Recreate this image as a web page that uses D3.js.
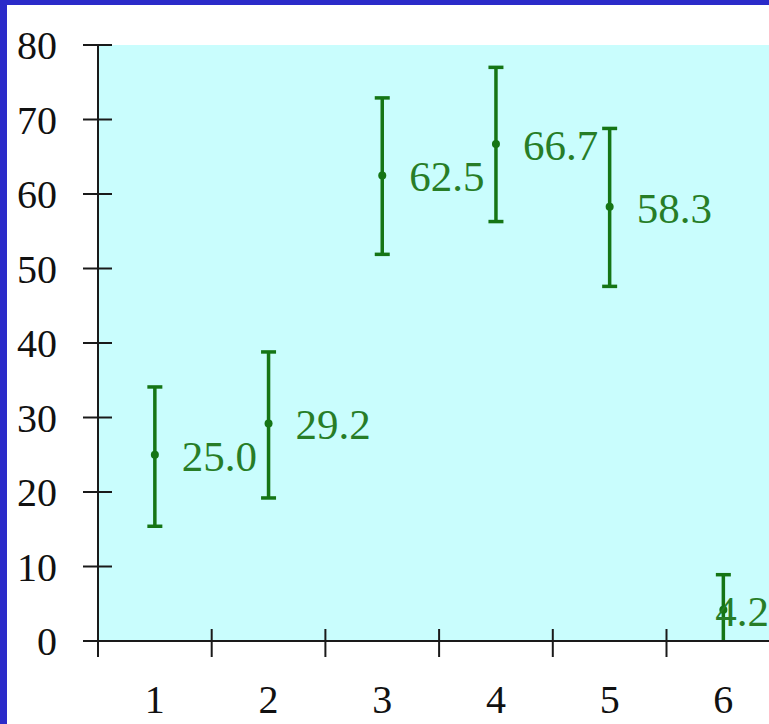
<!DOCTYPE html>
<html>
<head>
<meta charset="utf-8">
<script src="https://cdn.jsdelivr.net/npm/d3@7"></script>
<style>
  html, body { margin: 0; padding: 0; background: #ffffff; overflow: hidden; }
  svg { display: block; }
</style>
</head>
<body>
<svg></svg>
<script>
// Point estimates with error bars (percent)
const categories = ["1", "2", "3", "4", "5", "6"];
const values = [25.0, 29.2, 62.5, 66.7, 58.3, 4.2];
const upper = [34.1, 38.8, 72.9, 77.0, 68.8, 8.9];
const lower = [15.4, 19.2, 51.9, 56.3, 47.6, -0.5];
const valueLabels = ["25.0", "29.2", "62.5", "66.7", "58.3", "4.2"];
const yTicks = [0, 10, 20, 30, 40, 50, 60, 70, 80];

const width = 769;
const height = 724;

const svg = d3.select("svg").attr("width", width).attr("height", height);

// Frame: blue strips on the left and top edges
svg.append("rect").attr("x", 0).attr("y", 0).attr("width", width).attr("height", height).attr("fill", "#ffffff");
svg.append("rect").attr("x", 0).attr("y", 0).attr("width", 7).attr("height", height).attr("fill", "#2b2bc9");
svg.append("rect").attr("x", 0).attr("y", 0).attr("width", width).attr("height", 5).attr("fill", "#2b2bc9");

const plotLeft = 98;
const bandWidth = 113.7;

const x = d3
  .scaleBand()
  .domain(categories)
  .range([plotLeft, plotLeft + bandWidth * categories.length])
  .padding(0);

const y = d3.scaleLinear().domain([0, 80]).range([641, 45]);

const rows = categories.map((c, i) => ({
  cat: c,
  value: values[i],
  hi: upper[i],
  lo: lower[i],
  label: valueLabels[i],
}));

// Plot background
svg
  .append("rect")
  .attr("x", plotLeft)
  .attr("y", y(80))
  .attr("width", width - plotLeft)
  .attr("height", y(0) - y(80))
  .attr("fill", "#c9fdfd");

svg
  .append("clipPath")
  .attr("id", "plot-clip")
  .append("rect")
  .attr("x", plotLeft)
  .attr("y", y(80) - 10)
  .attr("width", width)
  .attr("height", y(0) - y(80) + 10);

const green = "#157515";
const cap = 7.5;
const barWidth = 3.5;

const bars = svg.append("g").attr("clip-path", "url(#plot-clip)");

const bar = bars
  .selectAll("g")
  .data(rows)
  .join("g")
  .attr("transform", (d) => `translate(${x(d.cat) + x.bandwidth() / 2},0)`);

bar
  .append("line")
  .attr("y1", (d) => y(d.lo))
  .attr("y2", (d) => y(d.hi))
  .attr("stroke", green)
  .attr("stroke-width", barWidth);

// Caps
bar
  .append("line")
  .attr("x1", -cap)
  .attr("x2", cap)
  .attr("y1", (d) => y(d.hi))
  .attr("y2", (d) => y(d.hi))
  .attr("stroke", green)
  .attr("stroke-width", barWidth);

bar
  .append("line")
  .attr("x1", -cap)
  .attr("x2", cap)
  .attr("y1", (d) => y(d.lo))
  .attr("y2", (d) => y(d.lo))
  .attr("stroke", green)
  .attr("stroke-width", barWidth);

bar
  .append("circle")
  .attr("cy", (d) => y(d.value))
  .attr("r", 4)
  .attr("fill", green);

// Value labels, kept inside the window at the right edge
const labels = svg
  .append("g")
  .selectAll("text")
  .data(rows)
  .join("text")
  .text((d) => d.label)
  .attr("y", (d) => y(d.value) + 16)
  .attr("font-family", "'Liberation Serif', 'Times New Roman', serif")
  .attr("font-size", 43)
  .attr("fill", "#277d27");

labels.attr("x", function (d) {
  const cx = x(d.cat) + x.bandwidth() / 2;
  const w = this.getComputedTextLength();
  return Math.min(cx + 27, width - w);
});

// ---- Axes ----
const axisColor = "#1a1a1a";
const axes = svg.append("g");

// y axis line
axes
  .append("line")
  .attr("x1", plotLeft)
  .attr("x2", plotLeft)
  .attr("y1", y(80))
  .attr("y2", y(0))
  .attr("stroke", axisColor)
  .attr("stroke-width", 2);

// x axis line
axes
  .append("line")
  .attr("x1", plotLeft)
  .attr("x2", width)
  .attr("y1", y(0))
  .attr("y2", y(0))
  .attr("stroke", axisColor)
  .attr("stroke-width", 2);

// y ticks cross the axis
axes
  .selectAll(".ytick")
  .data(yTicks)
  .join("line")
  .attr("class", "ytick")
  .attr("x1", plotLeft - 15)
  .attr("x2", plotLeft + 14)
  .attr("y1", (d) => y(d))
  .attr("y2", (d) => y(d))
  .attr("stroke", axisColor)
  .attr("stroke-width", 2);

axes
  .selectAll(".ylabel")
  .data(yTicks)
  .join("text")
  .attr("class", "ylabel")
  .attr("x", 57)
  .attr("y", (d) => y(d) + 14)
  .attr("text-anchor", "end")
  .attr("font-family", "'Liberation Serif', 'Times New Roman', serif")
  .attr("font-size", 40)
  .attr("fill", "#111")
  .text((d) => d);

// x ticks sit on the band edges
axes
  .selectAll(".xtick")
  .data(categories)
  .join("line")
  .attr("class", "xtick")
  .attr("x1", (d) => x(d))
  .attr("x2", (d) => x(d))
  .attr("y1", y(0) - 12)
  .attr("y2", y(0) + 16)
  .attr("stroke", axisColor)
  .attr("stroke-width", 2);

axes
  .selectAll(".xlabel")
  .data(categories)
  .join("text")
  .attr("class", "xlabel")
  .attr("x", (d) => x(d) + x.bandwidth() / 2)
  .attr("y", 713)
  .attr("text-anchor", "middle")
  .attr("font-family", "'Liberation Serif', 'Times New Roman', serif")
  .attr("font-size", 40)
  .attr("fill", "#111")
  .text((d) => d);
</script>
</body>
</html>
